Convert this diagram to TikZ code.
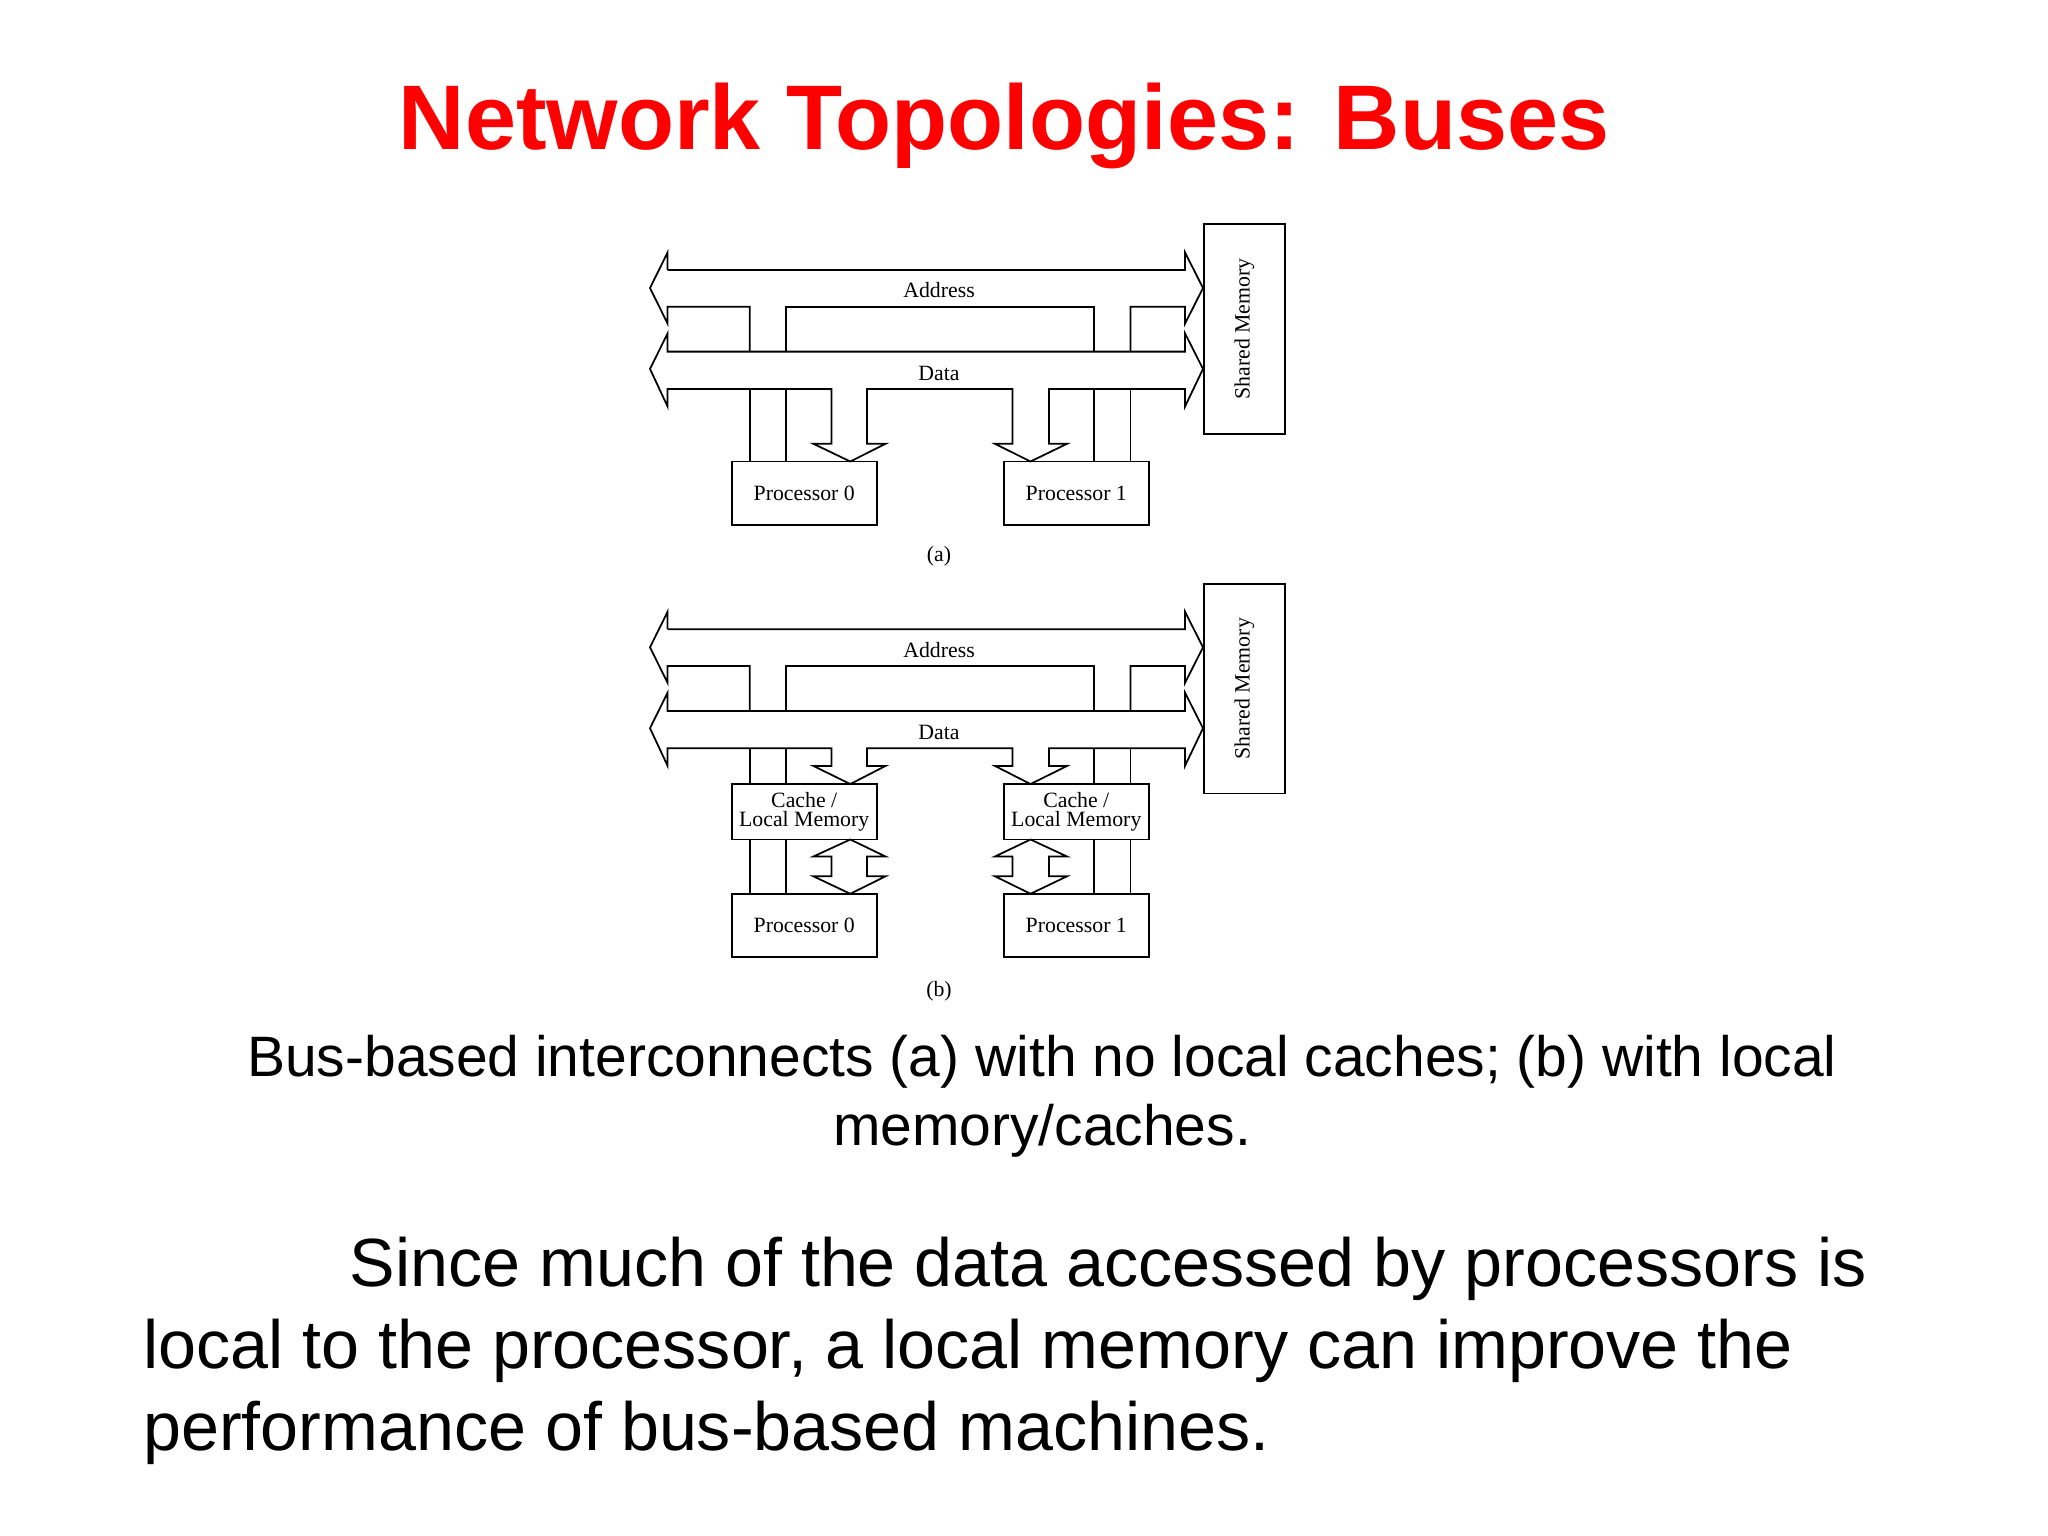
\documentclass[tikz,border=0pt]{standalone}
\usepackage{fontspec}
\setmainfont{Liberation Serif}
\newfontfamily\arialfont{Liberation Sans}
\begin{document}
\begin{tikzpicture}[x=0.01cm,y=-0.01cm,line width=0.5pt,
  box/.style={draw,inner sep=0pt,minimum width=1.45cm,font=\fontsize{6.2}{7}\selectfont,align=center},
  smbox/.style={draw,inner sep=0pt,minimum width=0.808cm,minimum height=2.095cm},
  lbl/.style={font=\fontsize{6.2}{7}\selectfont}]
\useasboundingbox (0,0) rectangle (2048,1536);
\fill[white] (0,0) rectangle (2048,1536);
\newcommand{\drawbus}[3]{%
\begin{scope}[shift={(0,#1)}]
\draw (667.6,281.6)--(1185,281.6)--(1185,260)--(1203,304)--(1185,348)--(1185,327)--(1130.6,327)--(1130.6,382.6);
\draw (1094,382.6)--(1094,327)--(786,327)--(786,382.6);
\draw (749.7,382.6)--(749.7,327)--(667.6,327)--(667.6,348)--(650,304)--(667.6,260)--(667.6,281.6);
\draw (667.6,382.6)--(1185,382.6)--(1185,360)--(1203,404)--(1185,450.5)--(1185,428.7)--(1049,428.7)--(1049,#2)--(1067,#2)--(1030.5,#3)--(995,#2)--(1012.4,#2)--(1012.4,428.7)--(867,428.7)--(867,#2)--(885.5,#2)--(850.3,#3)--(813.4,#2)--(831.5,#2)--(831.5,428.7)--(667.6,428.7)--(667.6,450.5)--(650,404)--(667.6,360)--cycle;
\node[lbl] at (939,307) {Address};
\node[lbl] at (939,409) {Data};
\end{scope}}
% title
\node[font=\arialfont\bfseries\fontsize{26.1}{30}\selectfont,text=red,anchor=base] (title) at (1004,149) {Network Topologies: Buses};
% (a)
\begin{scope}[y=-0.00809cm,yshift=-0.4202cm]
\drawbus{0}{496.5}{518.4}
\node[box,minimum height=0.636cm] (P0a) at (804.2,557.7) {Processor 0};
\node[box,minimum height=0.636cm] (P1a) at (1076.3,557.7) {Processor 1};
\node[smbox] (SMa) at (1244.4,354.5) {};
\node[lbl,rotate=90] at (SMa) {Shared Memory};
\foreach \x/\n in {749.7/P0a,786/P0a,1094/P1a,1130.6/P1a}
  \draw (\x,428.7) -- (\x,428.7 |- \n.north);
\end{scope}
\node[lbl] (capa) at (939,556) {(a)};
% (b)
\begin{scope}[y=-0.00809cm,yshift=-1.108cm]
\drawbus{359}{450.6}{473}
\node[box,minimum height=0.554cm] (C0) at (804.2,866.2) {Cache /\\[-1.5pt]Local Memory};
\node[box,minimum height=0.554cm] (C1) at (1076.3,866.2) {Cache /\\[-1.5pt]Local Memory};
\node[box,minimum height=0.634cm] (P0b) at (804.2,1006.8) {Processor 0};
\node[box,minimum height=0.634cm] (P1b) at (1076.3,1006.8) {Processor 1};
\node[smbox] (SMb) at (1244.4,714) {};
\node[lbl,rotate=90] at (SMb) {Shared Memory};
\foreach \x/\a/\b in {749.7/C0/P0b,786/C0/P0b,1094/C1/P1b,1130.6/C1/P1b}{
  \draw (\x,787.7) -- (\x,787.7 |- \a.north);
  \draw (\x,0 |- \a.south) -- (\x,0 |- \b.north);}
\draw (850.3,900.5)--(885.5,921.5)--(867,921.5)--(867,946)--(885.5,946)--(850.3,967.6)--(813.4,946)--(831.5,946)--(831.5,921.5)--(813.4,921.5)--cycle;
\draw (1030.5,900.5)--(1067,921.5)--(1049,921.5)--(1049,946)--(1067,946)--(1030.5,967.6)--(995,946)--(1012.4,946)--(1012.4,921.5)--(995,921.5)--cycle;
\end{scope}
\node[lbl] (capb) at (939,991) {(b)};
% caption
\begin{scope}[every node/.style={font=\arialfont\fontsize{16.2}{20}\selectfont,anchor=base}]
\node (c1) at (1042,1076) {Bus-based interconnects (a) with no local caches; (b) with local};
\node (c2) at (1042,1145) {memory/caches.};
\end{scope}
\begin{scope}[every node/.style={font=\arialfont\fontsize{19.4}{24}\selectfont,anchor=base west,inner sep=0pt}]
\node (t1) at (349,1286) {Since much of the data accessed by processors is};
\node (t2) at (142.5,1368) {local to the processor, a local memory can improve the};
\node (t3) at (142.5,1450) {performance of bus-based machines.};
\end{scope}
\end{tikzpicture}
\end{document}
